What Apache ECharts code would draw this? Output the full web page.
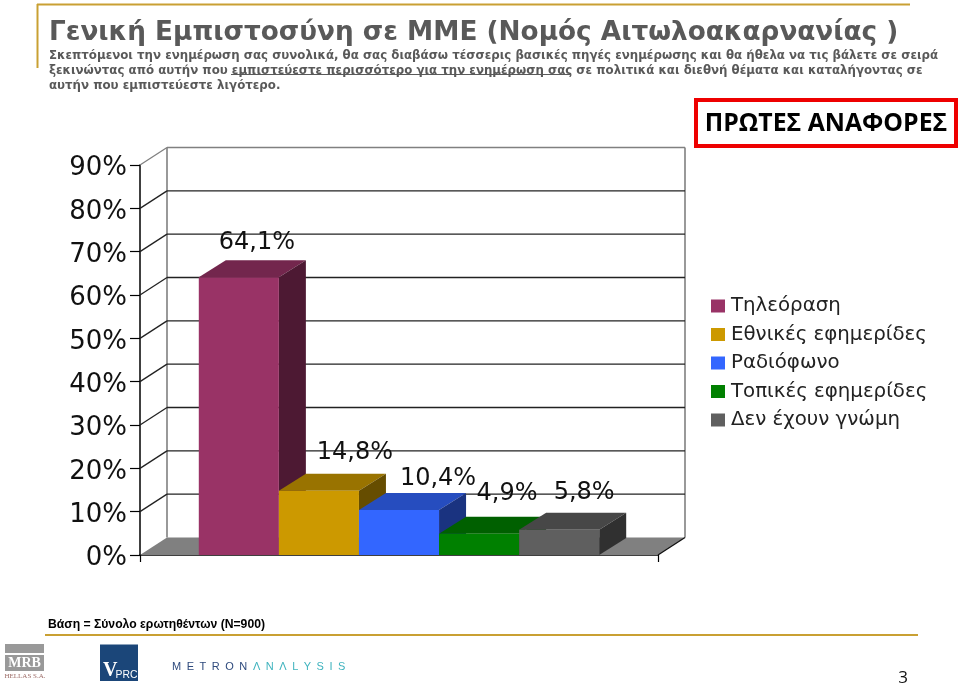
<!DOCTYPE html>
<html><head><meta charset="utf-8">
<script src="https://cdn.jsdelivr.net/npm/echarts@6/dist/echarts.min.js"></script>
<style>html,body{margin:0;padding:0;background:#fff}#c{width:960px;height:684px}</style>
</head><body><div id="c"></div>
<script>
var titleText = 'Γενική Εμπιστοσύνη σε ΜΜΕ (Νομός Αιτωλοακαρνανίας )';
var subtitleLines = [
  'Σκεπτόμενοι την ενημέρωση σας συνολικά, θα σας διαβάσω τέσσερις βασικές πηγές ενημέρωσης και θα ήθελα να τις βάλετε σε σειρά',
  'ξεκινώντας από αυτήν που εμπιστεύεστε περισσότερο για την ενημέρωση σας σε πολιτικά και διεθνή θέματα και καταλήγοντας σε',
  'αυτήν που εμπιστεύεστε λιγότερο.'
];
var seriesNames = ['Τηλεόραση', 'Εθνικές εφημερίδες', 'Ραδιόφωνο', 'Τοπικές εφημερίδες', 'Δεν έχουν γνώμη'];
var seriesValues = [64.1, 14.8, 10.4, 4.9, 5.8];
var yTicks = [0, 10, 20, 30, 40, 50, 60, 70, 80, 90];
var category = ['Πρώτες αναφορές'];

var frontColors = ['#993366', '#CC9900', '#3366FF', '#008000', '#5F5F5F'];
var topColors   = ['#73264D', '#997300', '#264DBF', '#006000', '#474747'];
var sideColors  = ['#4D1933', '#664D00', '#1A3380', '#004000', '#303030'];
var labelShift  = [[18, -34], [36, -38], [39, -31], [28, -40], [25, -37]];
var depthX = 27, depthY = 17, wallDepthY = 17.5, barFraction = 0.1546;
var gridGrey = '#808080', gold = '#C9A033', textGrey = '#595959';
var family = '"DejaVu Sans", Verdana, sans-serif';

function poly(pts, fill) {
  return { type: 'polygon', shape: { points: pts }, style: { fill: fill }, silent: true };
}
function line(x1, y1, x2, y2, stroke, width) {
  return { type: 'line', shape: { x1: x1, y1: y1, x2: x2, y2: y2 }, style: { stroke: stroke, lineWidth: width || 1.3 }, silent: true };
}
function renderFrame(params, api) {
  var v = api.value(1), w = api.size([1, 0])[0];
  var c = api.coord([0, v]), l = c[0] - w / 2, r = c[0] + w / 2, y = c[1];
  var kids = [];
  var stroke = v === 90 ? gridGrey : '#222';
  if (v === 0) {
    kids.push(poly([[l, y], [r, y], [r + depthX, y - wallDepthY], [l + depthX, y - wallDepthY]], gridGrey));
    var top = api.coord([0, 90])[1];
    kids.push(line(l + depthX, y - wallDepthY, l + depthX, top - wallDepthY, gridGrey, 1.6));
    kids.push(line(r + depthX, y - wallDepthY, r + depthX, top - wallDepthY, gridGrey, 1.6));
    kids.push(line(r, y, r + depthX, y - wallDepthY, '#111'));
  } else {
    kids.push(line(l, y, l + depthX, y - wallDepthY, stroke));
    kids.push(line(l + depthX, y - wallDepthY, r + depthX, y - wallDepthY, stroke));
  }
  return { type: 'group', children: kids };
}
function renderBar(i) {
  return function (params, api) {
    var v = api.value(1), w = api.size([1, 0])[0] * barFraction;
    var c = api.coord([0, v]), b = api.coord([0, 0]);
    var x0 = c[0] + (i - 2.5) * w, x1 = x0 + w, y = c[1], base = b[1];
    return { type: 'group', children: [
      poly([[x0, y], [x1, y], [x1 + depthX, y - depthY], [x0 + depthX, y - depthY]], topColors[i]),
      poly([[x1, y], [x1 + depthX, y - depthY], [x1 + depthX, base - depthY], [x1, base]], sideColors[i]),
      poly([[x0, y], [x1, y], [x1, base], [x0, base]], frontColors[i]),
      { type: 'text', x: x0 + w / 2 + labelShift[i][0], y: y + labelShift[i][1], silent: true,
        style: { text: v.toFixed(1).replace('.', ',') + '%', fill: '#111', align: 'center', verticalAlign: 'middle',
                 font: '24px ' + family } }
    ] };
  };
}

var series = [{
  type: 'custom', name: 'frame', coordinateSystem: 'cartesian2d', silent: true, z: 1,
  encode: { x: 0, y: 1 },
  data: yTicks.map(function (t) { return [0, t]; }),
  renderItem: renderFrame
}].concat(seriesNames.map(function (n, i) {
  return {
    type: 'custom', name: n, coordinateSystem: 'cartesian2d', z: 2 + i,
    itemStyle: { color: frontColors[i] }, encode: { x: 0, y: 1 },
    data: [[0, seriesValues[i]]], renderItem: renderBar(i)
  };
}));

var chart = echarts.init(document.getElementById('c'), null, { renderer: 'canvas' });
chart.setOption({
  animation: false,
  backgroundColor: '#fff',
  title: {
    text: titleText, subtext: subtitleLines.join('\n'), left: 49, top: 20, itemGap: 2.5,
    padding: 0,
    textStyle: { fontFamily: family, fontWeight: 'bold', fontSize: 26.3, color: textGrey },
    subtextStyle: { fontFamily: family, fontWeight: 'bold', fontSize: 11.8, color: textGrey, lineHeight: 15 }
  },
  legend: {
    orient: 'vertical', left: 711, top: 294, padding: 0, icon: 'rect', itemWidth: 14, itemHeight: 13, itemGap: 4.5,
    data: seriesNames, selectedMode: false,
    textStyle: { fontFamily: family, fontSize: 19.8, color: '#222', lineHeight: 24, padding: [0, 0, 0, 1] }
  },
  grid: { left: 140, right: 302, top: 165, bottom: 129, containLabel: false },
  xAxis: {
    type: 'category', data: category,
    axisLine: { lineStyle: { color: '#000', width: 1.5 } },
    axisTick: { show: true, length: 7, lineStyle: { color: '#000', width: 1.2 } },
    axisLabel: { show: false }, splitLine: { show: false }
  },
  yAxis: {
    type: 'value', min: 0, max: 90, interval: 10,
    axisLine: { show: true, lineStyle: { color: '#000', width: 1.5 } },
    axisTick: { show: true, length: 10, lineStyle: { color: '#000', width: 1.2 } },
    axisLabel: {
      formatter: function (v) { return '{a|' + v + '%}'; }, margin: 13,
      rich: { a: { fontFamily: family, fontSize: 26, color: '#111', padding: [7, 0, 0, 0] } }
    },
    splitLine: { show: false }
  },
  series: series,
  graphic: [
    { type: 'line', shape: { x1: 37, y1: 4.5, x2: 910, y2: 4.5 }, style: { stroke: gold, lineWidth: 2 } },
    { type: 'line', shape: { x1: 37.5, y1: 4, x2: 37.5, y2: 68 }, style: { stroke: gold, lineWidth: 2 } },
    { type: 'line', shape: { x1: 45, y1: 635, x2: 918, y2: 635 }, style: { stroke: gold, lineWidth: 2 } },
    { type: 'line', shape: { x1: 231, y1: 74.5, x2: 570, y2: 74.5 }, style: { stroke: textGrey, lineWidth: 1 } },
    { type: 'rect', shape: { x: 696, y: 100, width: 260, height: 46 }, style: { fill: '#fff', stroke: '#EE0000', lineWidth: 4 } },
    { type: 'text', x: 826, y: 124, style: { text: 'ΠΡΩΤΕΣ ΑΝΑΦΟΡΕΣ', fill: '#000', align: 'center', verticalAlign: 'middle', font: 'bold 24.8px "Open Sans", sans-serif' } },
    { type: 'text', x: 48, y: 625, style: { text: 'Βάση = Σύνολο ερωτηθέντων (N=900)', fill: '#000', verticalAlign: 'middle', font: 'bold 12.2px "Liberation Sans", Arial, sans-serif' } },
    { type: 'text', x: 903, y: 678, style: { text: '3', fill: '#111', align: 'center', verticalAlign: 'middle', font: '17px "Open Sans", sans-serif' } },
    { type: 'rect', shape: { x: 5, y: 644, width: 39, height: 9 }, style: { fill: '#999' } },
    { type: 'rect', shape: { x: 5, y: 655, width: 39, height: 16 }, style: { fill: '#999' } },
    { type: 'text', x: 24.5, y: 663.5, style: { text: 'MRB', fill: '#fff', align: 'center', verticalAlign: 'middle', font: 'bold 14px "Liberation Serif", serif' } },
    { type: 'text', x: 25, y: 676, style: { text: 'HELLAS S.A.', fill: '#9C6B66', align: 'center', verticalAlign: 'middle', font: '7px "Liberation Serif", serif' } },
    { type: 'rect', shape: { x: 100, y: 644.5, width: 38, height: 36.5 }, style: { fill: '#1B4679' } },
    { type: 'text', x: 103, y: 671, style: { text: 'V', fill: '#fff', verticalAlign: 'middle', font: 'bold 20px "Liberation Serif", serif' } },
    { type: 'text', x: 115.5, y: 675, style: { text: 'PRC', fill: '#fff', verticalAlign: 'middle', font: '10.4px "Liberation Sans", sans-serif' } },
    { type: 'text', x: 172, y: 667, style: { text: 'M\u2002E\u2002T\u2002R\u2002O\u2002N', fill: '#2E4A7D', verticalAlign: 'middle', font: '11px "Liberation Sans", sans-serif' } },
    { type: 'text', x: 253, y: 667, style: { text: 'Λ\u2002N\u2002Λ\u2002L\u2002Y\u2002S\u2002I\u2002S', fill: '#3FB3BE', verticalAlign: 'middle', font: '11px "Liberation Sans", sans-serif' } }
  ]
});
</script></body></html>
